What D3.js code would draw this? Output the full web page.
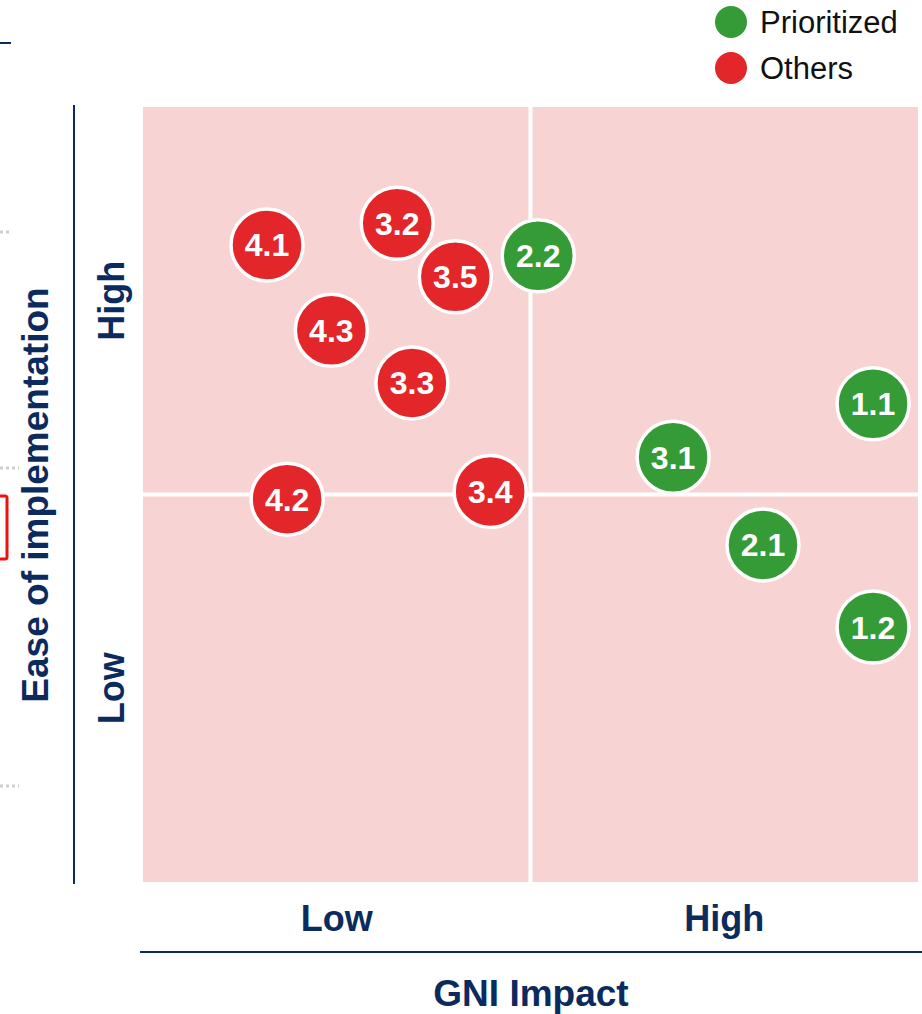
<!DOCTYPE html>
<html>
<head>
<meta charset="utf-8">
<script src="https://cdn.jsdelivr.net/npm/d3@7"></script>
<style>
  body { margin: 0; background: #fff; }
  svg { display: block; font-family: "Liberation Sans", Arial, sans-serif; }
</style>
</head>
<body>
<div id="chart"></div>
<script>
// initiatives: label, GNI impact (x), ease of implementation (y), group
const labels = ['4.1', '3.2', '3.5', '2.2', '4.3', '3.3', '1.1', '3.1', '3.4', '4.2', '2.1', '1.2'];
const impact = [1.60, 3.28, 4.03, 5.10, 2.43, 3.47, 9.42, 6.84, 4.48, 1.86, 8.00, 9.42];
const ease   = [8.22, 8.50, 7.81, 8.08, 7.12, 6.44, 6.17, 5.48, 5.04, 4.94, 4.35, 3.29];
const groups = ['Others', 'Others', 'Others', 'Prioritized', 'Others', 'Others',
                'Prioritized', 'Prioritized', 'Others', 'Others', 'Prioritized', 'Prioritized'];
const legendItems = ['Prioritized', 'Others'];
const levelLabels = ['Low', 'High'];

const navy = '#0b2b5e';
const color = d3.scaleOrdinal()
    .domain(legendItems)
    .range(['#349b37', '#e3262a']);

const width = 922;
const height = 1014;
const plot = {left: 143, right: 918, top: 107, bottom: 882};

const svg = d3.select('#chart')
    .append('svg')
    .attr('width', width)
    .attr('height', height);

// leftovers of the slide cut at the left edge
svg.append('line')
    .attr('x1', 0).attr('x2', 11).attr('y1', 43).attr('y2', 43)
    .attr('stroke', navy).attr('stroke-width', 2);
[232, 468, 786].forEach(function(y, i) {
  svg.append('line')
      .attr('x1', 0).attr('x2', i == 0 ? 11 : 19).attr('y1', y).attr('y2', y)
      .attr('stroke', '#cfcfcf').attr('stroke-width', 3)
      .attr('stroke-dasharray', '3,3');
});
svg.append('rect')
    .attr('x', -10).attr('y', 496).attr('width', 17).attr('height', 63)
    .attr('rx', 2)
    .attr('fill', 'none').attr('stroke', '#f01010').attr('stroke-width', 3);

const x = d3.scaleLinear().domain([0, 10]).range([plot.left, plot.right]);
const y = d3.scaleLinear().domain([0, 10]).range([plot.bottom, plot.top]);

// quadrant background
svg.append('rect')
    .attr('x', x(0))
    .attr('y', y(10))
    .attr('width', x(10) - x(0))
    .attr('height', y(0) - y(10))
    .attr('fill', '#f8d3d4');

svg.append('line')
    .attr('x1', x(5)).attr('x2', x(5))
    .attr('y1', y(0)).attr('y2', y(10))
    .attr('stroke', '#fff').attr('stroke-width', 4);
svg.append('line')
    .attr('x1', x(0)).attr('x2', x(10))
    .attr('y1', y(5)).attr('y2', y(5))
    .attr('stroke', '#fff').attr('stroke-width', 4);

// axis lines
svg.append('line')
    .attr('x1', 74).attr('x2', 74)
    .attr('y1', y(10) - 2).attr('y2', y(0) + 2)
    .attr('stroke', navy).attr('stroke-width', 2);
svg.append('line')
    .attr('x1', x(0) - 3).attr('x2', x(10) + 4)
    .attr('y1', 952).attr('y2', 952)
    .attr('stroke', navy).attr('stroke-width', 2);

// x level labels
const xLevel = d3.scaleBand().domain(levelLabels).range([x(0), x(10)]);
svg.selectAll('.xlevel')
    .data(levelLabels)
    .enter()
    .append('text')
    .attr('class', 'xlevel')
    .attr('x', d => xLevel(d) + xLevel.bandwidth() / 2)
    .attr('y', 931)
    .attr('text-anchor', 'middle')
    .attr('font-size', '36px')
    .attr('font-weight', 'bold')
    .attr('fill', navy)
    .text(d => d);

// y level labels
const yLevel = d3.scaleBand().domain(levelLabels).range([y(0), y(10)]);
svg.selectAll('.ylevel')
    .data(levelLabels)
    .enter()
    .append('text')
    .attr('class', 'ylevel')
    .attr('transform', d => 'translate(124,' + (yLevel(d) + yLevel.bandwidth() / 2) + ') rotate(-90)')
    .attr('text-anchor', 'middle')
    .attr('font-size', '36px')
    .attr('font-weight', 'bold')
    .attr('fill', navy)
    .text(d => d);

// axis titles
svg.append('text')
    .attr('x', 531)
    .attr('y', 1006)
    .attr('text-anchor', 'middle')
    .attr('font-size', '37px')
    .attr('font-weight', 'bold')
    .attr('fill', navy)
    .text('GNI Impact');

svg.append('text')
    .attr('transform', 'translate(48,495) rotate(-90)')
    .attr('text-anchor', 'middle')
    .attr('font-size', '37px')
    .attr('font-weight', 'bold')
    .attr('fill', navy)
    .text('Ease of implementation');

// bubbles
const points = labels.map((d, i) => ({label: d, x: impact[i], y: ease[i], group: groups[i]}));

const bubbles = svg.append('g')
    .selectAll('g')
    .data(points)
    .enter()
    .append('g')
    .attr('transform', d => 'translate(' + x(d.x) + ',' + y(d.y) + ')');

bubbles.append('circle')
    .attr('r', 36)
    .attr('fill', d => color(d.group))
    .attr('stroke', '#fff')
    .attr('stroke-width', 3.5);

bubbles.append('text')
    .attr('text-anchor', 'middle')
    .attr('dy', '0.36em')
    .attr('font-size', '32px')
    .attr('font-weight', 'bold')
    .attr('fill', '#fff')
    .text(d => d.label);

// legend
const legend = svg.append('g')
    .selectAll('g')
    .data(legendItems)
    .enter()
    .append('g')
    .attr('transform', (d, i) => 'translate(731,' + (22 + i * 46) + ')');

legend.append('circle')
    .attr('r', 16)
    .attr('fill', d => color(d));

legend.append('text')
    .attr('x', 29)
    .attr('dy', '0.36em')
    .attr('font-size', '31px')
    .attr('fill', '#111')
    .text(d => d);
</script>
</body>
</html>
